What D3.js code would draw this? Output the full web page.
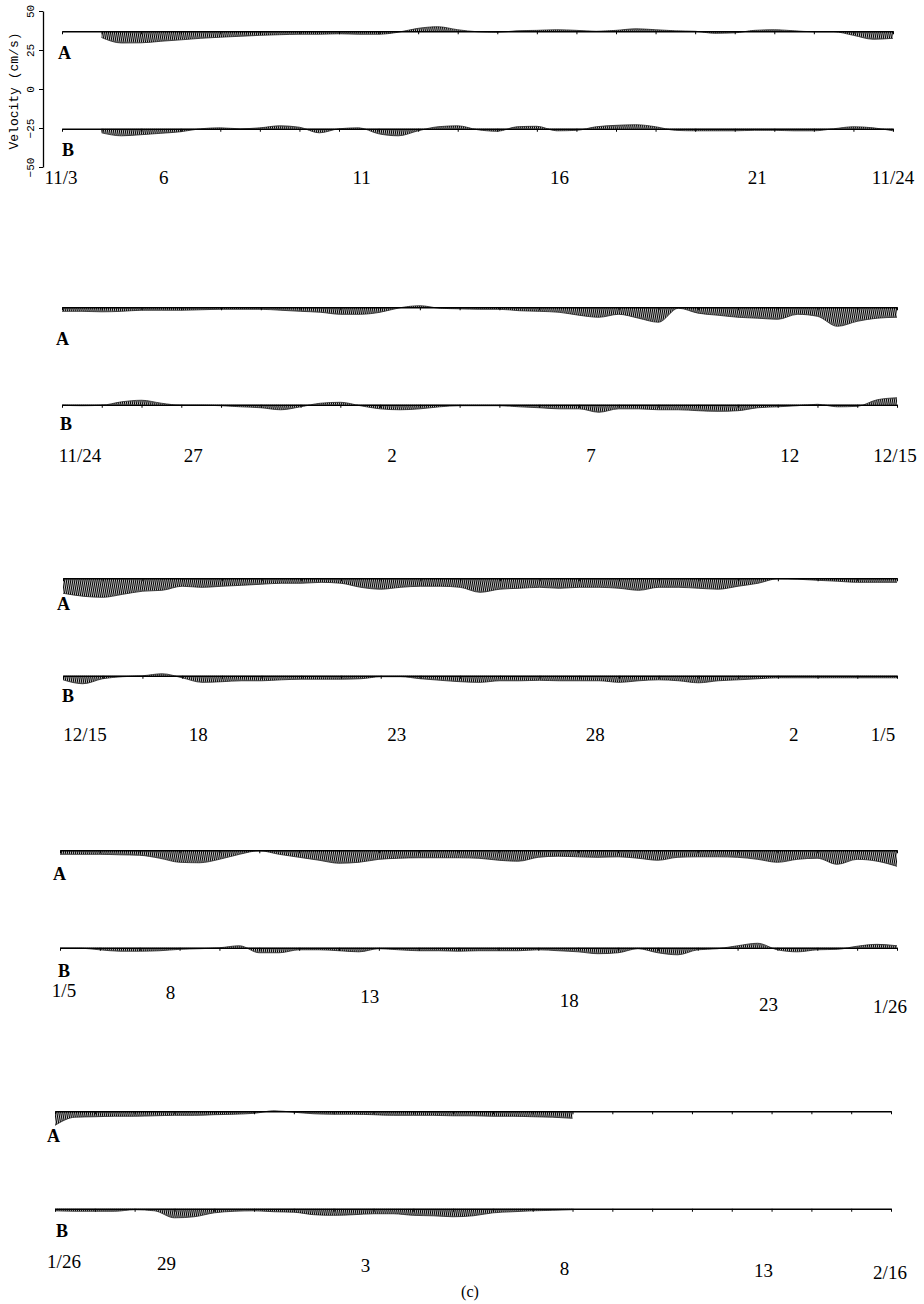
<!DOCTYPE html>
<html>
<head>
<meta charset="utf-8">
<script src="https://cdn.jsdelivr.net/npm/d3@7"></script>
<style>
  body { margin: 0; background: #fff; }
  svg { display: block; }
</style>
</head>
<body>
<div id="chart"></div>
<script>
// sample times within each 21-day window (days, every 12 h)
const sampleDays = d3.range(0, 21.001, 0.5);
const dayTicks = d3.range(0, 22);
const labelDays = [0, 3, 8, 13, 18, 21];
const velTicks = [-50, -25, 0, 25, 50];
const recordNames = ["A", "B"];

const dates1 = ["11/3", "6", "11", "16", "21", "11/24"];
const dates2 = ["11/24", "27", "2", "7", "12", "12/15"];
const dates3 = ["12/15", "18", "23", "28", "2", "1/5"];
const dates4 = ["1/5", "8", "13", "18", "23", "1/26"];
const dates5 = ["1/26", "29", "3", "8", "13", "2/16"];

// stick tip offsets (cm/s, read off the envelope), null = no record
const vel1A = [null, null, -4, -7.5, -7.4, -6.4, -5.5, -4.5, -3.8, -3.2, -2.6, -2.2, -1.9, -1.9, -1.6, -1.9, -1.9, -0.6, 1.9, 2.9, 1, -0.3, -0.6, 0.3, 0.6, 1, 0.6, 0, 0.6, 1.6, 1, 0.3, 0, -1.3, -1, 0.6, 1, 0.3, -0.3, -0.3, -2.6, -5.1, -4.5];
const vel1B = [null, null, -2.6, -4.5, -3.8, -2.9, -1.9, 0, 0.6, 0, 0.6, 1.9, 1, -2.6, 0, 0.6, -3.2, -4.5, -1.3, 1.3, 1.9, -0.6, -1.6, 1.3, 1.6, -1.3, -1, 1.3, 2.2, 2.6, 1.3, -1, -1.3, -1.3, -1.3, -1, -1, -1.3, -1.3, 0, 1.3, 0.6, -1.3];
const vel2A = [-2.6, -2.6, -2.9, -2.6, -1.9, -1.9, -1.9, -1.6, -1.3, -1.3, -1.3, -1.9, -2.6, -3.2, -4.5, -4.5, -3.2, -0.3, 1, -0.6, -1, -1.3, -1.3, -2.2, -2.6, -3.2, -5.1, -6.4, -4.5, -7, -9.6, -0.6, -3.8, -5.1, -6.4, -7, -7.7, -4.5, -5.8, -12.2, -9, -7, -6.4];
const vel2B = [-0.3, -0.6, -0.3, 1.9, 2.9, 1, -0.3, -0.3, -0.6, -1.3, -1.9, -3.2, -1.3, 1, 1.6, -0.6, -2.6, -3.2, -2.6, -1.3, -0.6, -0.6, -0.6, -1.3, -1.9, -2.6, -2.6, -4.8, -2.6, -2.6, -3.2, -3.2, -3.8, -4.2, -3.8, -1.9, -1.3, -0.6, 0.3, -1.3, -1, 3.2, 4.5];
const vel3A = [-9.6, -11.5, -12.2, -10.3, -8.3, -7.7, -5.1, -5.8, -5.1, -4.5, -3.8, -3.2, -3.2, -2.6, -3.2, -5.8, -7, -5.8, -5.1, -5.1, -5.8, -9, -7, -6.4, -5.8, -6.4, -5.8, -5.8, -6.4, -7.7, -5.8, -5.8, -6.4, -7, -5.1, -3.2, -0.3, -0.6, -1.3, -1.9, -2.6, -2.6, -2.6];
const vel3B = [-2.6, -5.1, -1.9, -0.6, 0, 1.3, -1.3, -4.2, -3.8, -3.2, -3.2, -2.6, -2.2, -2.2, -2.2, -1.9, -0.6, -0.6, -1.9, -2.9, -3.8, -4.2, -3.2, -3.2, -2.9, -3.2, -3.2, -3.2, -4.2, -3.2, -2.6, -3.2, -4.5, -3.2, -2.6, -1.9, -1.3, -1.3, -1.3, -1.3, -1.3, -1.3, -1.3];
const vel4A = [-2.6, -2.6, -2.6, -2.9, -3.2, -5.1, -7.7, -8, -5.8, -2.6, -0.3, -2.6, -4.5, -6.4, -8.3, -7.7, -5.8, -5.1, -4.8, -4.8, -4.8, -5.1, -6.4, -7, -4.5, -3.8, -4.2, -4.5, -4.2, -5.1, -6.4, -4.5, -4.2, -4.2, -4.5, -5.8, -7.7, -5.8, -5.1, -9, -5.8, -7, -10.3];
const vel4B = [-0.3, -0.3, -1.3, -2.2, -2.2, -1.9, -1, -0.6, 0, 1.3, -3.2, -3.2, -1.3, -1.3, -1.9, -2.6, -0.6, -1.3, -1.9, -1.9, -2.2, -1.9, -1.9, -1.9, -1.3, -1.9, -2.6, -3.8, -3.2, -0.6, -3.2, -4.5, -1.3, -0.6, 1.3, 2.9, -1.3, -2.6, -1.3, -1, 1, 2.2, 1.3];
const vel5A = [-9, -3.8, -3.5, -3.2, -3.2, -2.9, -2.6, -2.6, -2.2, -1.9, -1.3, 0.3, -0.6, -1.6, -1.9, -1.9, -2.2, -2.6, -2.6, -2.6, -2.9, -2.9, -3.2, -3.2, -3.5, -3.8, -4.5, null, null, null, null, null, null, null, null, null, null, null, null, null, null, null, null];
const vel5B = [-1.3, -1.6, -1.6, -1.6, -0.6, -1.3, -5.8, -5.1, -2.6, -1.6, -1.3, -1.9, -2.2, -3.8, -4.2, -3.8, -3.2, -3.2, -4.2, -4.5, -5.1, -4.5, -2.6, -1.9, -1.3, -1, -0.6, null, null, null, null, null, null, null, null, null, null, null, null, null, null, null, null];

const records = [[vel1A, vel1B], [vel2A, vel2B], [vel3A, vel3B], [vel4A, vel4B], [vel5A, vel5B]];
const dateLabels = [dates1, dates2, dates3, dates4, dates5];

// layout: baselines of A and B in cm/s, panel placement on the page
const BASE = {A: 37, B: -25.5};
const PANELS = [
    {x0: 62, x1: 893, yTop: 11,   lab: {A: [58, 59],   B: [62, 156]},  dateY: [184, 184],   shift: [-1, -17, 0]},
    {x0: 62, x1: 897, yTop: 287,  lab: {A: [56, 345],  B: [60, 430]},  dateY: [462, 462],   shift: [18, 12, -2]},
    {x0: 63, x1: 897, yTop: 558,  lab: {A: [57, 610],  B: [62, 702]},  dateY: [741, 741],   shift: [22, 16, -14]},
    {x0: 60, x1: 897, yTop: 830,  lab: {A: [53, 880],  B: [58, 977]},  dateY: [997, 1013],  shift: [4, -9, -7]},
    {x0: 55, x1: 891, yTop: 1091, lab: {A: [47, 1142], B: [56, 1237]}, dateY: [1268, 1279], shift: [9, -8, -1]}
];

const SERIF = "'Liberation Serif', 'Times New Roman', serif";
const MONO = "'Liberation Mono', 'DejaVu Sans Mono', monospace";

const svg = d3.select("#chart")
    .append("svg")
        .attr("width", 924)
        .attr("height", 1304)
        .attr("viewBox", "0 0 924 1304");

svg.append("rect").attr("width", 924).attr("height", 1304).attr("fill", "#fff");

// hatch that stands in for the dense hourly sticks
let pat = svg.append("defs")
    .append("pattern")
        .attr("id", "sticks")
        .attr("patternUnits", "userSpaceOnUse")
        .attr("width", 2)
        .attr("height", 10)
        .attr("patternTransform", "rotate(10)");
pat.append("rect").attr("width", 2).attr("height", 10).attr("fill", "#fff");
pat.append("line")
    .attr("x1", 0.6).attr("x2", 0.6)
    .attr("y1", 0).attr("y2", 10)
    .attr("stroke", "#000")
    .attr("stroke-width", 1.3);

PANELS.forEach((p, i) => {
    const x = d3.scaleLinear().domain([0, 21]).range([p.x0, p.x1]);
    const y = d3.scaleLinear().domain([-50, 50]).range([p.yTop + 156, p.yTop]);
    const g = svg.append("g").attr("class", "panel");

    recordNames.forEach((name, j) => {
        const base = BASE[name];
        const pts = sampleDays.map((t, k) => ({t: t, v: records[i][j][k]}));

        const area = d3.area()
            .defined(d => d.v !== null)
            .x(d => x(d.t))
            .y0(y(base))
            .y1(d => y(base + d.v))
            .curve(d3.curveMonotoneX);

        const tip = d3.line()
            .defined(d => d.v !== null)
            .x(d => x(d.t))
            .y(d => y(base + d.v))
            .curve(d3.curveMonotoneX);

        g.append("path")
            .datum(pts)
            .attr("d", area)
            .attr("fill", "url(#sticks)");

        g.append("path")
            .datum(pts)
            .attr("d", tip)
            .attr("fill", "none")
            .attr("stroke", "#222")
            .attr("stroke-width", 0.8);

        // baseline with daily ticks
        let axis = g.append("g")
            .attr("transform", `translate(0,${y(base)})`)
            .call(d3.axisBottom(x).tickValues(dayTicks).tickSize(3).tickSizeOuter(0).tickFormat(""));
        axis.select(".domain").attr("stroke-width", 1.4);
        axis.selectAll(".tick line").attr("stroke-width", 1);

        g.append("text")
            .attr("x", p.lab[name][0])
            .attr("y", p.lab[name][1])
            .attr("font-family", SERIF)
            .attr("font-weight", "bold")
            .attr("font-size", 18)
            .text(name);
    });

    // date labels under each panel
    const last = labelDays.length - 1;
    g.selectAll(".date")
        .data(dateLabels[i])
        .enter()
        .append("text")
            .attr("class", "date")
            .attr("x", (d, k) => x(labelDays[k]) + (k === 0 ? p.shift[0] : k === last ? p.shift[2] : p.shift[1]))
            .attr("y", (d, k) => p.dateY[0] + (p.dateY[1] - p.dateY[0]) * labelDays[k] / 21)
            .attr("text-anchor", "middle")
            .attr("font-family", SERIF)
            .attr("font-size", 19)
            .text(d => d);

    // velocity axis only on the first panel
    if (i === 0) {
        let yAxis = svg.append("g")
            .attr("transform", "translate(43,0)")
            .call(d3.axisLeft(y).tickValues(velTicks).tickSize(4).tickSizeOuter(0));
        yAxis.select(".domain").attr("stroke-width", 1.3);
        yAxis.selectAll(".tick text")
            .attr("x", 0)
            .attr("dy", 0)
            .attr("transform", "translate(-9,0) rotate(-90)")
            .attr("text-anchor", "middle")
            .attr("font-family", MONO)
            .attr("font-size", 11)
            .attr("fill", "#000");

        svg.append("text")
            .attr("transform", `translate(18,${y(0) + 2}) rotate(-90)`)
            .attr("text-anchor", "middle")
            .attr("font-family", MONO)
            .attr("font-size", 13)
            .text("Velocity (cm/s)");
    }
});

svg.append("text")
    .attr("x", 470)
    .attr("y", 1297)
    .attr("text-anchor", "middle")
    .attr("font-family", SERIF)
    .attr("font-size", 16)
    .text("(c)");
</script>
</body>
</html>
